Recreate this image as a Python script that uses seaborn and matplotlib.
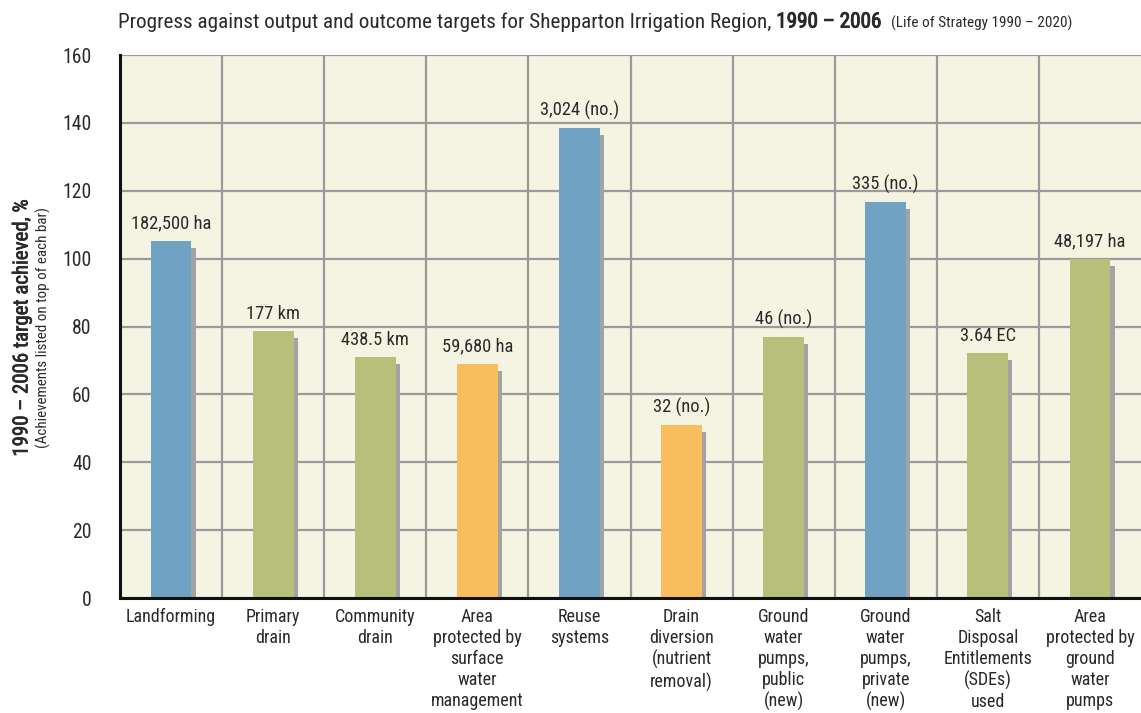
import numpy as np
import pandas as pd
import matplotlib
matplotlib.use("Agg")
import matplotlib.pyplot as plt
import matplotlib.patheffects as pe
import seaborn as sns

# ── Data ────────────────────────────────────────────────────────
CATEGORIES = [
    "Landforming", "Primary\ndrain", "Community\ndrain",
    "Area\nprotected by\nsurface\nwater\nmanagement",
    "Reuse\nsystems", "Drain\ndiversion\n(nutrient\nremoval)",
    "Ground\nwater\npumps,\npublic\n(new)",
    "Ground\nwater\npumps,\nprivate\n(new)",
    "Salt\nDisposal\nEntitlements\n(SDEs)\nused",
    "Area\nprotected by\nground\nwater\npumps",
]
PCT_ACHIEVED = [105.2, 78.7, 71.0, 69.0, 138.5, 51.0, 76.9, 116.7, 72.2, 99.9]
ACHIEVEMENTS = ["182,500 ha", "177 km", "438.5 km", "59,680 ha", "3,024 (no.)",
                "32 (no.)", "46 (no.)", "335 (no.)", "3.64 EC", "48,197 ha"]
GROUP = ["blue", "green", "green", "orange", "blue",
         "orange", "green", "blue", "green", "green"]
Y_TICKS = [0, 20, 40, 60, 80, 100, 120, 140, 160]

GROUP_COL = {"blue": "#6FA3C1", "green": "#B8BF7A", "orange": "#F8BD5D"}
BG_COL    = "#F5F4E2"
GRID_COL  = "#9A9A9A"
SHADOW    = "#A3A3A3"
TXT_COL   = "#2A2A2A"

df = pd.DataFrame({"cat": CATEGORIES, "pct": PCT_ACHIEVED, "grp": GROUP})

sns.set_style("white")
plt.rcParams["font.family"] = ["Roboto Condensed", "DejaVu Sans"]
plt.rcParams["font.stretch"] = "condensed"

fig = plt.figure(figsize=(11.41, 7.13), dpi=100)
ax = fig.add_axes([120/1141, 1 - 598/713, 1 - 120/1141, (598 - 55)/713])
ax.set_facecolor(BG_COL)

sns.barplot(data=df, x="cat", y="pct", hue="cat",
            palette=[GROUP_COL[g] for g in GROUP], legend=False, saturation=1,
            width=0.4, linewidth=0, edgecolor="none", ax=ax, zorder=3)

# grey drop shadow, offset right/down like the original
for p in ax.patches:
    p.set_path_effects([pe.SimplePatchShadow(offset=(3, -5), shadow_rgbFace=SHADOW, alpha=1.0),
                        pe.Normal()])

for i, (v, lab) in enumerate(zip(PCT_ACHIEVED, ACHIEVEMENTS)):
    ax.annotate(lab, (i, v), xytext=(0, 6), textcoords="offset points",
                ha="center", va="bottom", fontsize=13.3, color=TXT_COL, zorder=5)

ax.set_xlim(-0.5, len(CATEGORIES) - 0.5)
ax.set_ylim(0, 160)
ax.set_yticks(Y_TICKS)
ax.set_xticks(np.arange(len(CATEGORIES)))
ax.set_xticklabels(CATEGORIES, fontsize=13, color=TXT_COL, linespacing=1.22, va="top")
ax.set_xticks(np.arange(len(CATEGORIES) - 1) + 0.5, minor=True)
ax.tick_params(axis="x", which="both", length=0, pad=7)
ax.tick_params(axis="y", length=14.4, width=1.6, color=GRID_COL, labelsize=14.2,
               labelcolor=TXT_COL, pad=6)
ax.yaxis.get_major_ticks()[0].tick1line.set_color("black")

ax.grid(True, axis="y", which="major", color=GRID_COL, linewidth=1.6, zorder=1)
ax.grid(True, axis="x", which="minor", color=GRID_COL, linewidth=1.6, zorder=1)
ax.set_axisbelow(True)

for s in ["top", "right"]:
    ax.spines[s].set_visible(False)
for s in ["left", "bottom"]:
    ax.spines[s].set_color("#111111")
    ax.spines[s].set_linewidth(2.2)
    ax.spines[s].set_zorder(6)

ax.set_xlabel("")
ax.set_ylabel("")
fig.text(22/1141, 1 - 328/713, "1990 – 2006 target achieved, %", rotation=90,
         ha="center", va="center", fontsize=15, color=TXT_COL,
         path_effects=[pe.withStroke(linewidth=0.5, foreground=TXT_COL)])
fig.text(43/1141, 1 - 328/713, "(Achievements listed on top of each bar)", rotation=90,
         ha="center", va="center", fontsize=10.8, color=TXT_COL)

t = fig.text(118/1141, 1 - 22/713,
             "Progress against output and outcome targets for Shepparton Irrigation Region, ",
             ha="left", va="center", fontsize=15.2, color=TXT_COL)
fig.canvas.draw()
bb = t.get_window_extent()
t2 = fig.text(bb.x1 / fig.bbox.width, 1 - 22/713, "1990 – 2006",
              ha="left", va="center", fontsize=15.2, color=TXT_COL,
              path_effects=[pe.withStroke(linewidth=0.7, foreground=TXT_COL)])
fig.canvas.draw()
bb2 = t2.get_window_extent()
fig.text((bb2.x1 + 9) / fig.bbox.width, 1 - 23/713, "(Life of Strategy 1990 – 2020)",
         ha="left", va="center", fontsize=11, color=TXT_COL)

fig.savefig("out.png", dpi=100)
plt.close(fig)
